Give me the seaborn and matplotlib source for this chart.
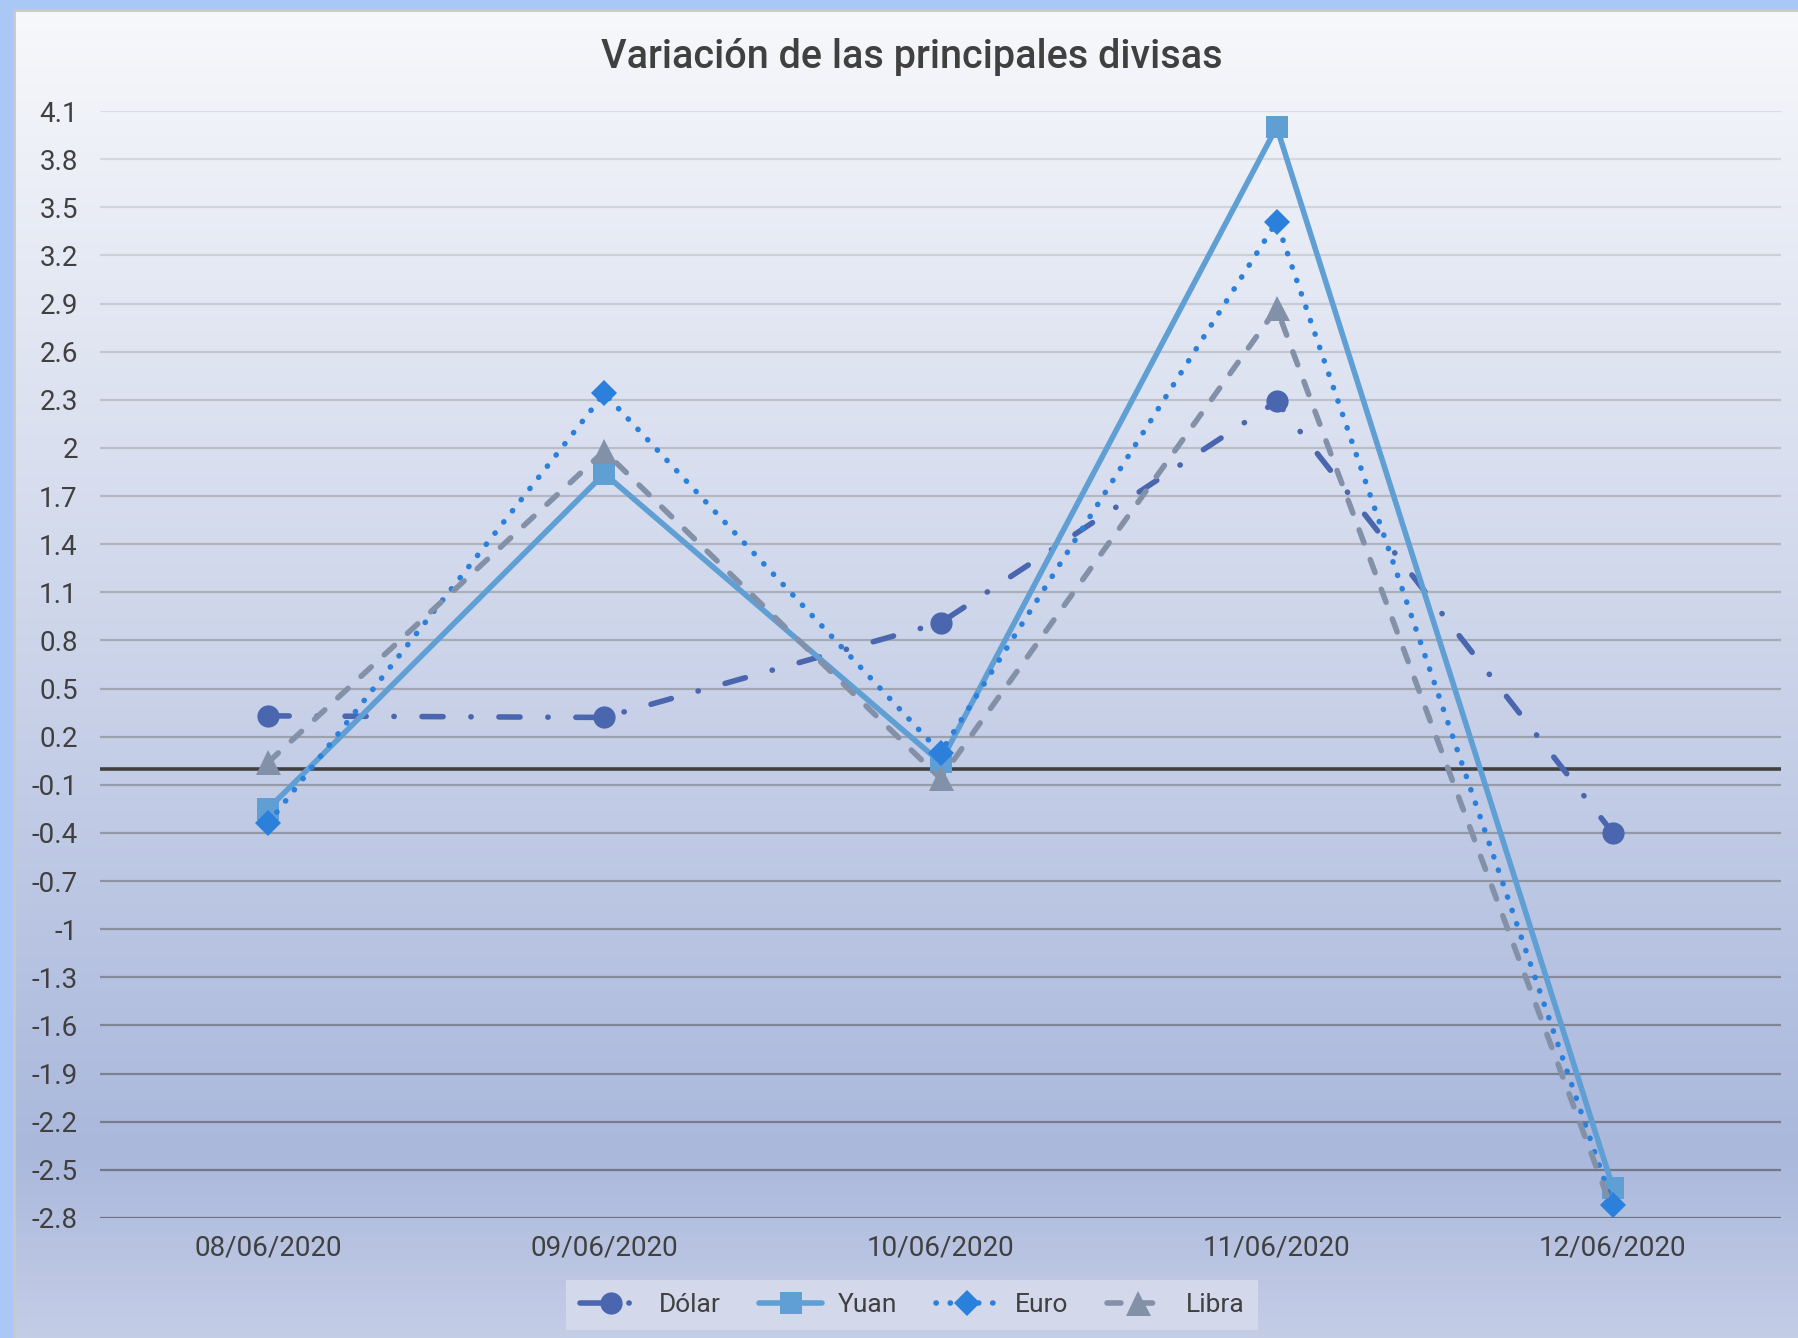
import matplotlib
matplotlib.use("Agg")
import matplotlib.pyplot as plt
import numpy as np
import pandas as pd
import seaborn as sns

fechas = ["08/06/2020", "09/06/2020", "10/06/2020", "11/06/2020", "12/06/2020"]
dolar = [0.33, 0.32, 0.91, 2.29, -0.40]
yuan = [-0.25, 1.84, 0.04, 4.00, -2.61]
euro = [-0.34, 2.34, 0.10, 3.41, -2.72]
libra = [0.04, 1.98, -0.06, 2.87, -2.76]
y_ticks = [round(4.1 - 0.3 * i, 1) for i in range(24)]

titulo = "Variación de las principales divisas"

sns.set_theme(style="white")
plt.rcParams["font.family"] = ["Roboto", "DejaVu Sans"]

W, H = 1798, 1338
fig = plt.figure(figsize=(W / 100, H / 100), dpi=100)
fig.patch.set_facecolor("#a9c8f5")

# panel del grafico con degradado vertical (estilo Excel)
bg = fig.add_axes([14 / W, 0, 1 - 14 / W, 1 - 10 / H], zorder=0)
stops = [0.0, 0.86, 1.0]
cols = np.array([[247, 248, 251], [170, 184, 220], [196, 205, 230]]) / 255
t = np.linspace(0, 1, 400)
grad = np.stack([np.interp(t, stops, cols[:, c]) for c in range(3)], axis=-1)[:, None, :]
bg.imshow(grad, aspect="auto", extent=[0, 1, 0, 1])
bg.set_axis_off()
bg.plot([0, 0], [0, 1], color="#c9c9c9", lw=2, transform=bg.transAxes, clip_on=False)
bg.plot([0, 1], [1, 1], color="#c9c9c9", lw=2, transform=bg.transAxes, clip_on=False)

ax = fig.add_axes([100 / W, 1 - 1218 / H, (1781 - 100) / W, (1218 - 111) / H], zorder=1)
ax.patch.set_alpha(0)

# lineas de cuadricula: mas claras arriba, mas oscuras abajo
c_top = np.array([218, 221, 229]) / 255
c_bot = np.array([108, 115, 132]) / 255
for i, v in enumerate(y_ticks):
    f = i / (len(y_ticks) - 1)
    ax.axhline(v, color=c_top * (1 - f) + c_bot * f, lw=1.6, zorder=1)
ax.axhline(0, color="#404040", lw=2.6, zorder=2)

df = pd.DataFrame({"fecha": fechas, "Dólar": dolar, "Yuan": yuan, "Euro": euro, "Libra": libra})

estilos = {
    "Dólar": dict(color="#4a66ae", marker="o", ms=16,
                  linestyle=(0, (3.8, 5.0, 0.05, 5.0))),
    "Yuan": dict(color="#609fd4", marker="s", ms=16.5, linestyle="-"),
    "Euro": dict(color="#2a80da", marker="D", ms=13.5, linestyle=(0, (0.05, 2.5))),
    # en el original el triangulo del ultimo dia queda oculto
    "Libra": dict(color="#8391a8", marker="^", ms=18, linestyle=(0, (2.5, 3.2)),
                  markevery=[0, 1, 2, 3]),
}
for serie, kw in estilos.items():
    sns.lineplot(data=df, x="fecha", y=serie, ax=ax, label=serie, lw=4.0,
                 dash_capstyle="round", solid_capstyle="round",
                 markeredgewidth=0, zorder=3, sort=False, **kw)

ax.set_xlim(-0.5, len(fechas) - 0.5)
ax.set_ylim(-2.8, 4.1)
ax.set_yticks(y_ticks)
ax.set_yticklabels([f"{v:g}" for v in y_ticks])
ax.set_xticks(range(len(fechas)))
ax.set_xticklabels(fechas)
ax.tick_params(axis="y", length=0, pad=16, labelsize=20, labelcolor="#404040")
ax.tick_params(axis="x", length=0, pad=12, labelsize=20, labelcolor="#404040")
ax.set_xlabel("")
ax.set_ylabel("")
sns.despine(ax=ax, left=True, bottom=True)

leg = ax.legend(loc="center", bbox_to_anchor=(912 / W, 1 - 1305 / H), bbox_transform=fig.transFigure,
                ncol=4, frameon=True, fancybox=False, fontsize=19,
                handlelength=2.4, handletextpad=0.6, columnspacing=1.45, borderpad=0.5,
                labelcolor="#404040")
leg.get_frame().set_facecolor("#d3d9ea")
leg.get_frame().set_edgecolor("none")
leg.get_frame().set_alpha(1)

fig.text(912 / W, 1 - 57 / H, titulo, ha="center", va="center", fontsize=28.5,
         fontweight="medium", color="#404040")

fig.savefig("out.png", dpi=100)
